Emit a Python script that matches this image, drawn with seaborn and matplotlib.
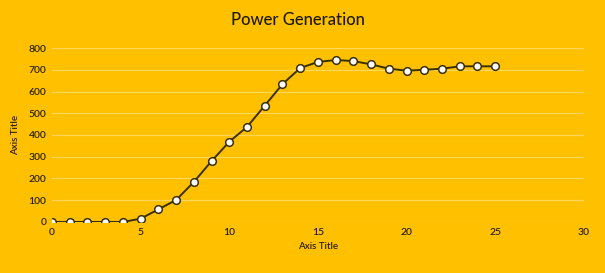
import numpy as np
import pandas as pd
import matplotlib
matplotlib.use("Agg")
import matplotlib.pyplot as plt
import seaborn as sns

x_values = [0, 1, 2, 3, 4, 5, 6, 7, 8, 9, 10, 11, 12, 13, 14, 15, 16, 17, 18, 19, 20, 21, 22, 23, 24, 25]
power = [0, 0, 0, 0, 0, 15, 58, 101, 184, 280, 369, 437, 535, 634, 708, 736, 745, 740, 725, 705, 696, 700, 705, 716, 716, 716]
x_ticks = [0, 5, 10, 15, 20, 25, 30]
y_ticks = [0, 100, 200, 300, 400, 500, 600, 700, 800]

sns.set_theme(style="white")
plt.rcParams['font.family'] = ['Lato', 'DejaVu Sans']

bg = "#FFC000"
txt = "#2b2200"
df = pd.DataFrame({"x": x_values, "y": power})

fig = plt.figure(figsize=(6.05, 2.73), dpi=100, facecolor=bg)
ax = fig.add_axes([0.086, 0.187, 0.879, 0.637])
ax.set_facecolor(bg)

sns.lineplot(data=df, x="x", y="y", ax=ax, color="#3b3000", linewidth=1.4,
             marker="o", markersize=5.5, markerfacecolor="white",
             markeredgecolor="#3b3000", markeredgewidth=1.1, zorder=3)

ax.set_xlim(0, 30)
ax.set_ylim(0, 800)
ax.set_xticks(x_ticks)
ax.set_yticks(y_ticks)
ax.tick_params(axis="both", labelsize=7.5, colors=txt, length=0, pad=4)
for lbl in ax.get_xticklabels() + ax.get_yticklabels():
    lbl.set_fontweight("semibold")
for s in ax.spines.values():
    s.set_visible(False)
ax.grid(axis="y", color="#FFD75A", linewidth=0.9)
ax.grid(axis="x", visible=False)
ax.set_axisbelow(True)

ax.set_xlabel("Axis Title", fontsize=7, color=txt, labelpad=4, fontweight="semibold")
ax.set_ylabel("Axis Title", fontsize=7, color=txt, labelpad=6, fontweight="semibold")
fig.text(0.493, 0.925, "Power Generation", ha="center", va="center",
         fontsize=12, color="#1e1800", fontweight="medium")

fig.savefig("out.png", dpi=100, facecolor=bg)
